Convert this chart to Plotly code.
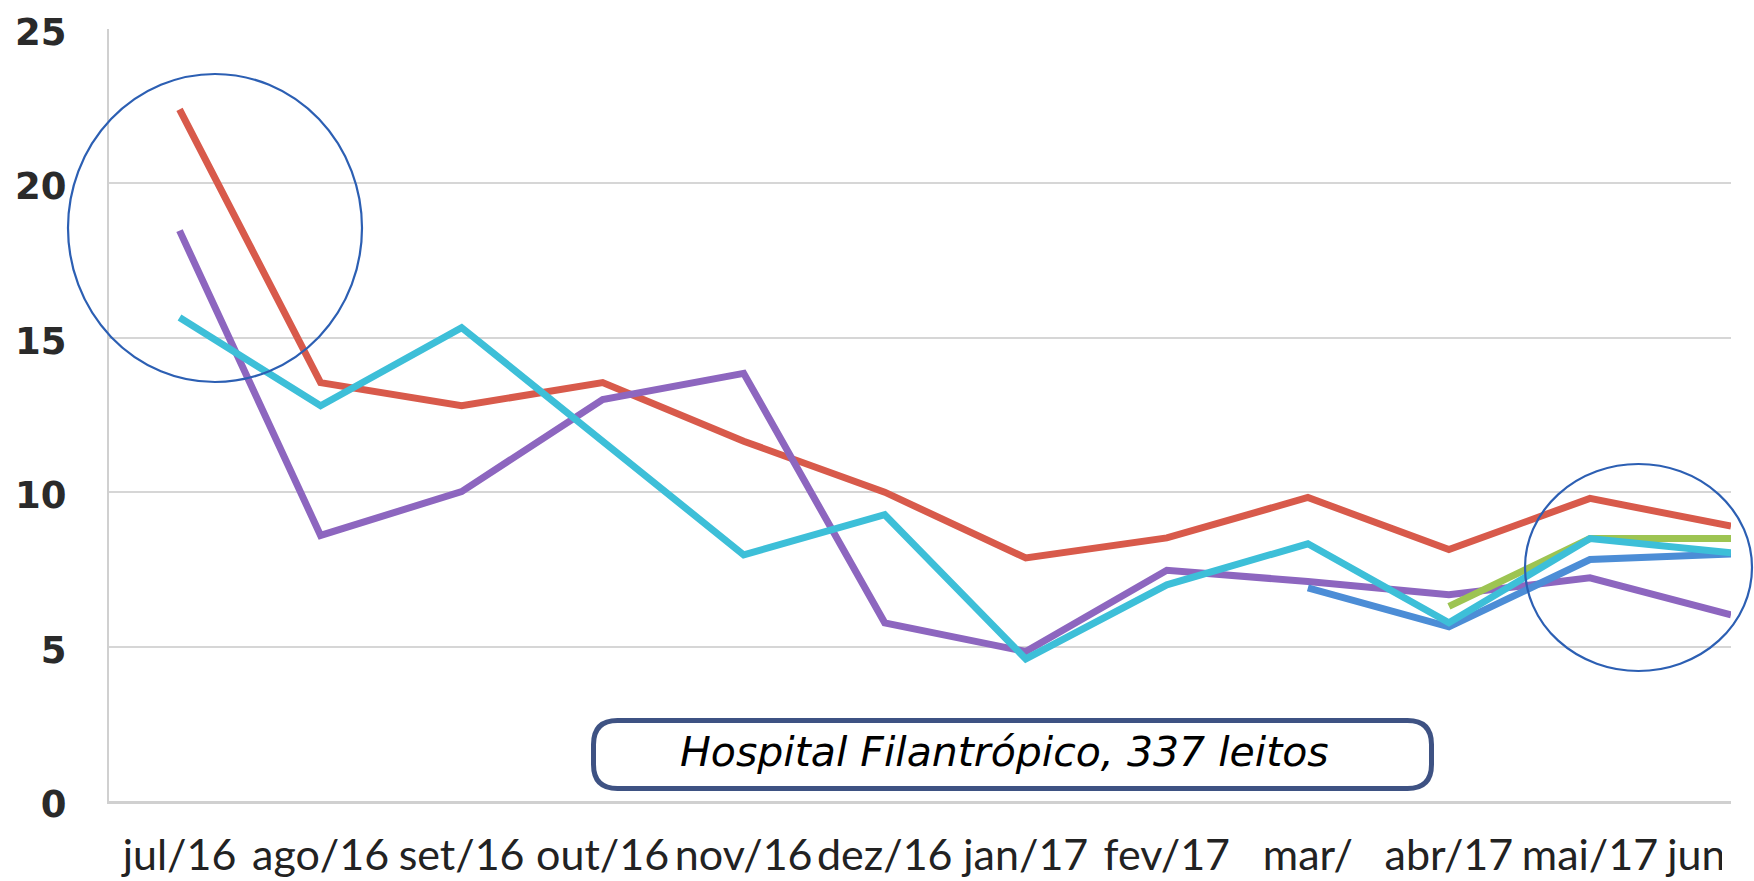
import plotly.graph_objects as go

# ---------------- data ----------------
months = ["jul/16", "ago/16", "set/16", "out/16", "nov/16", "dez/16",
          "jan/17", "fev/17", "mar/17", "abr/17", "mai/17", "jun/17"]
tick_labels = ["jul/16", "ago/16", "set/16", "out/16", "nov/16", "dez/16",
               "jan/17", "fev/17", "mar/", "abr/17", "mai/17", "jun/17"]

red_vals = [22.4, 13.55, 12.8, 13.55, 11.65, 10.0, 7.87, 8.52, 9.83, 8.14, 9.8, 8.9]
purple_vals = [18.47, 8.6, 10.02, 13.0, 13.85, 5.77, 4.84, 7.47, 7.11, 6.68, 7.23, 6.03]
cyan_vals = [15.66, 12.8, 15.33, 11.65, 7.97, 9.27, 4.6, 7.0, 8.33, 5.77, 8.5, 8.04]
blue_vals = [None, None, None, None, None, None, None, None, 6.9, 5.64, 7.82, 8.0]
green_vals = [None, None, None, None, None, None, None, None, None, 6.3, 8.5, 8.5]

annotation_text = "Hospital Filantrópico, 337 leitos"

# ---------------- figure ----------------
W, H = 1754, 881
L, R, T, B = 109, 23, 29, 80
PW, PH = W - L - R, H - T - B


def px(x):
    return (x - L) / PW


def py(y):
    return (H - B - y) / PH


series = [
    ("red", red_vals, "#D85A4B"),
    ("purple", purple_vals, "#8D66BF"),
    ("blue", blue_vals, "#4C8DD6"),
    ("green", green_vals, "#9DC452"),
    ("cyan", cyan_vals, "#3DBFD8"),
]

fig = go.Figure()
for name, vals, color in series:
    fig.add_trace(go.Scatter(
        x=months, y=vals, mode="lines", name=name,
        line=dict(color=color, width=7),
        connectgaps=False, showlegend=False, hoverinfo="skip",
    ))

fig.update_layout(
    width=W, height=H, autosize=False,
    margin=dict(l=L, r=R, t=T, b=B, pad=0, autoexpand=False),
    paper_bgcolor="white", plot_bgcolor="white",
    showlegend=False,
)

fig.update_xaxes(
    type="category", categoryorder="array", categoryarray=months,
    range=[-0.5, 11], tickmode="array", tickvals=months, ticktext=tick_labels,
    showgrid=False, showline=True, linecolor="#D0D0D0", linewidth=3,
    ticks="", ticklabelstandoff=14, automargin=False,
    tickfont=dict(family="Lato", size=43, color="#222222"),
    fixedrange=True,
)
fig.update_yaxes(
    range=[0, 25], tickmode="array", tickvals=[0, 5, 10, 15, 20, 25],
    showgrid=True, gridcolor="#D6D6D6", gridwidth=2,
    showline=True, linecolor="#D0D0D0", linewidth=2,
    zeroline=False, ticks="", ticklabelstandoff=33, ticklabelshift=3,
    automargin=False,
    tickfont=dict(family="DejaVu Sans", size=37, color="#2A2A2A", weight="bold"),
    fixedrange=True,
)

shapes = []
# white mask that crops the last tick label like the original screenshot
shapes.append(dict(type="rect", xref="paper", yref="paper",
                   x0=px(1722), x1=px(1800), y0=py(H + 20), y1=py(H - B + 3),
                   fillcolor="white", line=dict(width=0), layer="above"))
# highlight circles
circ = "#2C5FB3"
shapes.append(dict(type="circle", xref="paper", yref="paper",
                   x0=px(68), x1=px(362), y0=py(382), y1=py(74),
                   line=dict(color=circ, width=2.2), layer="above"))
shapes.append(dict(type="circle", xref="paper", yref="paper",
                   x0=px(1525), x1=px(1752), y0=py(671), y1=py(464),
                   line=dict(color=circ, width=2.2), layer="above"))

# rounded box around the caption
bx0, bx1, by0, by1, r = 593.5, 1431.5, 720.5, 788.5, 24
pts = [
    ("M", [(bx0 + r, by0)]),
    ("L", [(bx1 - r, by0)]),
    ("Q", [(bx1, by0), (bx1, by0 + r)]),
    ("L", [(bx1, by1 - r)]),
    ("Q", [(bx1, by1), (bx1 - r, by1)]),
    ("L", [(bx0 + r, by1)]),
    ("Q", [(bx0, by1), (bx0, by1 - r)]),
    ("L", [(bx0, by0 + r)]),
    ("Q", [(bx0, by0), (bx0 + r, by0)]),
]
path = ""
for cmd, coords in pts:
    path += cmd + " " + " ".join(f"{px(a):.5f},{py(b):.5f}" for a, b in coords) + " "
path += "Z"
shapes.append(dict(type="path", xref="paper", yref="paper", path=path,
                   fillcolor="white", line=dict(color="#3E5283", width=5),
                   layer="above"))
fig.update_layout(shapes=shapes)

fig.add_annotation(
    x=px(1005), y=py(752), xref="paper", yref="paper",
    text=f"<i>{annotation_text}</i>", showarrow=False,
    xanchor="center", yanchor="middle",
    font=dict(family="DejaVu Sans", size=41, color="#000000"),
)

fig.write_html("out.html", config={"displayModeBar": False},
               post_script="document.body.style.margin='0';document.body.style.overflow='hidden';")
